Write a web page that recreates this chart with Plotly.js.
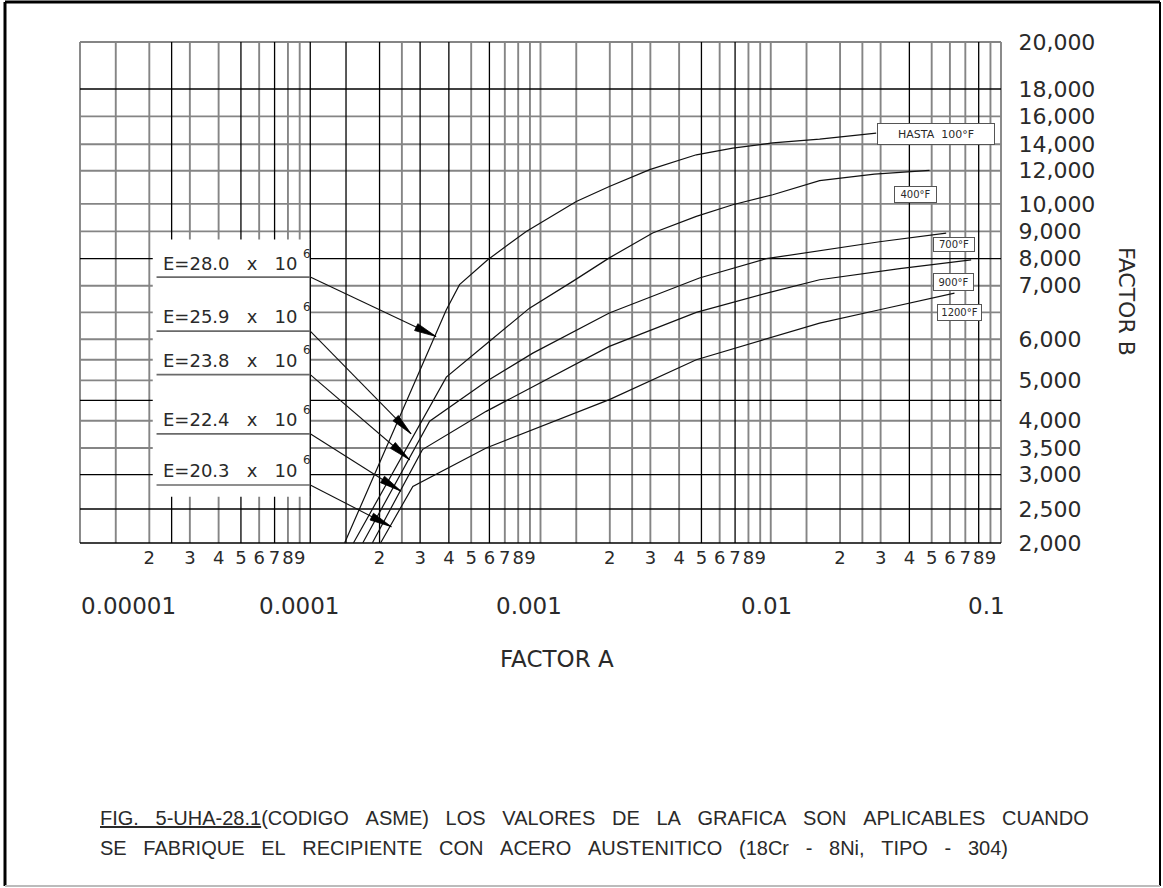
<!DOCTYPE html>
<html>
<head>
<meta charset="utf-8">
<script src="https://cdn.plot.ly/plotly-3.0.1.min.js"></script>
<style>
  html, body { margin: 0; padding: 0; background: #fff; }
  #chart { width: 1163px; height: 888px; }
</style>
</head>
<body>
<div id="chart"></div>
<script>
// ================= DATA =================
// Factor A (strain) and Factor B (psi) along each temperature curve
const FACTOR_A_100F  = [0.000141, 0.00039, 0.000445, 0.00059, 0.000867, 0.00143, 0.00199, 0.00298, 0.00475, 0.00684, 0.0102, 0.0163, 0.0287];
const FACTOR_B_100F  = [2000, 6550, 7040, 7960, 9000, 10150, 11050, 12080, 13200, 13700, 14090, 14370, 14800];
const FACTOR_A_400F  = [0.000154, 0.00039, 0.00059, 0.000896, 0.00138, 0.00199, 0.00307, 0.00475, 0.00684, 0.0102, 0.0163, 0.0282, 0.0489];
const FACTOR_B_400F  = [2000, 5080, 5915, 6580, 7160, 8030, 8940, 9545, 9970, 10550, 11400, 11790, 12020];
const FACTOR_A_700F  = [0.000169, 0.00033, 0.000581, 0.000926, 0.00199, 0.0049, 0.00956, 0.0163, 0.0297, 0.0578];
const FACTOR_B_700F  = [2000, 3990, 4975, 5660, 6490, 7285, 8000, 8290, 8620, 8940];
const FACTOR_A_900F  = [0.000186, 0.000307, 0.000581, 0.00199, 0.00475, 0.0102, 0.0163, 0.0363, 0.0742];
const FACTOR_B_900F  = [2000, 3470, 4230, 5825, 6500, 6890, 7220, 7630, 7960];
const FACTOR_A_1200F = [0.000202, 0.000279, 0.000581, 0.00199, 0.00475, 0.0163, 0.0297, 0.0628];
const FACTOR_B_1200F = [2000, 2830, 3500, 4520, 5500, 6300, 6550, 6860];

const CURVE_LABELS = ['HASTA\u00a0\u00a0100°F', '400°F', '700°F', '900°F', '1200°F'];

// Modulus of elasticity call-outs (E x 10^6 psi) and the curve points their arrows touch
const MODULUS_E      = ['28.0', '25.9', '23.8', '22.4', '20.3'];
const MODULUS_EXP    = '6';
const LEADER_START_B = [7320, 6150, 5140, 3760, 2850];
const ARROW_TIP_A    = [0.000352, 0.000274, 0.00027, 0.000248, 0.000225];
const ARROW_TIP_B    = [6050, 3760, 3280, 2760, 2240];

// Axis tick labels
const B_TICKS        = [2000, 2500, 3000, 3500, 4000, 5000, 6000, 7000, 8000, 9000, 10000, 12000, 14000, 16000, 18000, 20000];
const A_DECADES      = [0.00001, 0.0001, 0.001, 0.01, 0.1];
const A_DECADE_TEXT  = ['0.00001', '0.0001', '0.001', '0.01', '0.1'];
const A_DIGITS       = [2, 3, 4, 5, 6, 7, 8, 9];

// Caption words
const CAPTION_FIG    = ['FIG.', '5-UHA-28.1'];
const CAPTION_LINE1  = ['(CODIGO', 'ASME)', 'LOS', 'VALORES', 'DE', 'LA', 'GRAFICA', 'SON', 'APLICABLES', 'CUANDO'];
const CAPTION_LINE2  = ['SE', 'FABRIQUE', 'EL', 'RECIPIENTE', 'CON', 'ACERO', 'AUSTENITICO', '(18Cr', '-', '8Ni,', 'TIPO', '-', '304)'];

// Grid of the printed chart
const A_GRID_STEPS   = [1, 1.43, 2, 2.5, 3, 4, 5, 6, 7, 8, 9];
const B_GRID         = [2000, 2500, 3000, 3500, 4000, 4500, 5000, 5500, 6000, 6500, 7000, 8000, 9000, 10000, 12000, 14000, 16000, 18000, 20000];

// ================= SCALE / STYLE =================
// The printed Factor B scale is not a true log scale: grid value -> distance (px) above the 2,000 line.
const B_SCALE_STEPS  = [0, 34, 68.3, 95, 122.3, 142.6, 162.6, 183.3, 203.8, 230.6, 257.3, 284.3, 311.6, 339.1, 372.3, 398.8, 426.6, 454, 501];
function bScale(b) {
  const v = B_GRID, s = B_SCALE_STEPS, n = v.length - 1;
  if (b <= v[0]) return s[0] + (b - v[0]) * (s[1] - s[0]) / (v[1] - v[0]);
  for (let i = 1; i <= n; i++) {
    if (b <= v[i]) return s[i - 1] + (b - v[i - 1]) * (s[i] - s[i - 1]) / (v[i] - v[i - 1]);
  }
  return s[n] + (b - v[n]) * (s[n] - s[n - 1]) / (v[n] - v[n - 1]);
}

const W = 1163, H = 888;
const M = { l: 78, r: 160, t: 40, b: 343 };
const PAD = 2;                                   // px of breathing room so border lines are not clipped
const PLOT_W = W - M.l - M.r, PLOT_H = H - M.t - M.b;
const PX_PER_DECADE = (PLOT_W - 2 * PAD) / 4;
const U_TOP = B_SCALE_STEPS[B_SCALE_STEPS.length - 1];
const PX_PER_U = (PLOT_H - 2 * PAD) / U_TOP;
const px2paperX = px => (px - M.l) / PLOT_W;
const py2paperY = py => (H - M.b - py) / PLOT_H;

const FONT_WIDE    = 'DejaVu Sans, Verdana, sans-serif';
const FONT_CAPTION = 'Liberation Sans, Arial, sans-serif';
const INK = '#2a2a2a';
const GRID_GRAY = '#858585';
const WORD_GAP = '\u00a0\u00a0\u00a0';

const DARK_A = [2.5e-5, 5e-5, 7e-5, 1e-4, 1.43e-4, 2e-4, 3e-4, 4e-4, 6e-4, 5e-3, 7e-3, 4e-2, 8e-2];
const DARK_B = [2000, 2500, 3000, 4500, 8000, 18000];
const isDarkA = a => DARK_A.some(d => Math.abs(a / d - 1) < 1e-6);

// ================= TRACES =================
const A_MIN = A_DECADES[0], A_MAX = A_DECADES[A_DECADES.length - 1];
const uMin = bScale(B_GRID[0]), uMax = bScale(B_GRID[B_GRID.length - 1]);

const gray = { x: [], y: [] }, dark = { x: [], y: [] };
const aGrid = A_DECADES.slice(0, -1).flatMap(d => A_GRID_STEPS.map(m => m * d)).concat([A_MAX]);
aGrid.forEach(a => {
  const t = isDarkA(a) ? dark : gray;
  t.x.push(a, a, null); t.y.push(uMin, uMax, null);
});
B_GRID.forEach(b => {
  const t = DARK_B.includes(b) ? dark : gray;
  t.x.push(A_MIN, A_MAX, null); t.y.push(bScale(b), bScale(b), null);
});

function lineTrace(x, y, color, width) {
  return { type: 'scatter', mode: 'lines', x, y, line: { color, width }, hoverinfo: 'skip', showlegend: false };
}

const traces = [];
traces.push(lineTrace(gray.x, gray.y, GRID_GRAY, 1.9));
traces.push(lineTrace(dark.x, dark.y, '#000', 1.3));

// white panel that holds the E call-outs (covers the grid, as in the print)
const PANEL = { a0: 2.07e-5, a1: 1e-4, b0: 2680, b1: 8700 };
traces.push({
  type: 'scatter', mode: 'none', fill: 'toself', fillcolor: '#fff',
  x: [PANEL.a0, PANEL.a1, PANEL.a1, PANEL.a0, PANEL.a0],
  y: [bScale(PANEL.b0), bScale(PANEL.b0), bScale(PANEL.b1), bScale(PANEL.b1), bScale(PANEL.b0)],
  hoverinfo: 'skip', showlegend: false
});
traces.push(lineTrace([PANEL.a1, PANEL.a1], [bScale(PANEL.b0), bScale(PANEL.b1)], '#000', 1.3));

// temperature curves
[[FACTOR_A_100F, FACTOR_B_100F], [FACTOR_A_400F, FACTOR_B_400F], [FACTOR_A_700F, FACTOR_B_700F],
 [FACTOR_A_900F, FACTOR_B_900F], [FACTOR_A_1200F, FACTOR_B_1200F]].forEach(([a, b], i) => {
  const t = lineTrace(a, b.map(bScale), '#111', 1.2);
  t.name = CURVE_LABELS[i];
  traces.push(t);
});

// E call-out underlines, leaders and arrowheads
const UNDERLINE_A0 = 2.15e-5;
const ul = { x: [], y: [] }, ld = { x: [], y: [] }, ah = { x: [], y: [] };
MODULUS_E.forEach((e, i) => {
  const u0 = bScale(LEADER_START_B[i]);
  ul.x.push(UNDERLINE_A0, PANEL.a1, null); ul.y.push(u0, u0, null);
  ld.x.push(PANEL.a1, ARROW_TIP_A[i], null); ld.y.push(u0, bScale(ARROW_TIP_B[i]), null);
  // arrowhead built in screen space then mapped back through the axes
  const sx = Math.log10(PANEL.a1) * PX_PER_DECADE, sy = u0 * PX_PER_U;
  const tx = Math.log10(ARROW_TIP_A[i]) * PX_PER_DECADE, ty = bScale(ARROW_TIP_B[i]) * PX_PER_U;
  let dx = tx - sx, dy = ty - sy; const L = Math.hypot(dx, dy); dx /= L; dy /= L;
  const len = 22, hw = 3.8;
  const bx = tx - dx * len, by = ty - dy * len, nx = -dy, ny = dx;
  const pts = [[tx, ty], [bx + nx * hw, by + ny * hw], [bx - nx * hw, by - ny * hw], [tx, ty]];
  pts.forEach(p => { ah.x.push(Math.pow(10, p[0] / PX_PER_DECADE)); ah.y.push(p[1] / PX_PER_U); });
  ah.x.push(null); ah.y.push(null);
});
traces.push(lineTrace(ul.x, ul.y, '#6a6a6a', 1.7));
traces.push(lineTrace(ld.x, ld.y, '#111', 1.1));
traces.push({ type: 'scatter', mode: 'lines', fill: 'toself', fillcolor: '#000', x: ah.x, y: ah.y,
              line: { color: '#000', width: 0.8 }, hoverinfo: 'skip', showlegend: false });

// ================= ANNOTATIONS =================
const annotations = [];

// decade labels under the digit ticks
const DECADE_SHIFT = [48, -11, -12, -4, -15];
A_DECADES.forEach((d, i) => annotations.push({
  xref: 'x', yref: 'paper', x: Math.log10(d), y: py2paperY(606), xanchor: 'center', yanchor: 'middle',
  xshift: DECADE_SHIFT[i], text: A_DECADE_TEXT[i], showarrow: false,
  font: { family: FONT_WIDE, size: 23, color: INK }
}));

annotations.push({ xref: 'paper', yref: 'paper', x: px2paperX(557), y: py2paperY(659), xanchor: 'center', yanchor: 'middle',
  text: 'FACTOR A', showarrow: false, font: { family: FONT_WIDE, size: 23, color: INK } });
annotations.push({ xref: 'paper', yref: 'paper', x: px2paperX(1127), y: py2paperY(301), xanchor: 'center', yanchor: 'middle',
  text: 'FACTOR B', textangle: 90, showarrow: false, font: { family: FONT_WIDE, size: 22, color: INK } });

// E call-out text (mantissa and exponent)
const E_TEXT_Y = [263.7, 316.7, 360, 419.7, 470.3];
MODULUS_E.forEach((e, i) => {
  annotations.push({
    xref: 'paper', yref: 'paper', x: px2paperX(161), y: py2paperY(E_TEXT_Y[i]), xanchor: 'left', yanchor: 'middle',
    text: 'E=' + e + '\u00a0\u00a0\u00a0x\u00a0\u00a0\u00a010', showarrow: false,
    font: { family: FONT_WIDE, size: 18, color: INK }
  });
  annotations.push({
    xref: 'paper', yref: 'paper', x: px2paperX(301), y: py2paperY(E_TEXT_Y[i] - 10), xanchor: 'left', yanchor: 'middle',
    text: MODULUS_EXP, showarrow: false, font: { family: FONT_WIDE, size: 12, color: INK }
  });
});

// temperature boxes
const LABEL_BOX = [
  { cx: 935.8, cy: 133.8, w: 118, h: 22, fs: 11 },
  { cx: 915.8, cy: 194.7, w: 43, h: 17, fs: 10 },
  { cx: 954.2, cy: 244.7, w: 42, h: 15, fs: 10 },
  { cx: 953.0, cy: 281.5, w: 41, h: 18, fs: 10 },
  { cx: 959.2, cy: 312.0, w: 45, h: 17, fs: 10 }
];
CURVE_LABELS.forEach((t, i) => {
  const bx = LABEL_BOX[i];
  annotations.push({
    xref: 'paper', yref: 'paper', x: px2paperX(bx.cx), y: py2paperY(bx.cy), xanchor: 'center', yanchor: 'middle',
    text: t, showarrow: false, width: bx.w - 4, height: bx.h - 4, borderpad: 1, borderwidth: 1,
    bordercolor: '#555', bgcolor: '#fff', align: 'center', valign: 'middle',
    font: { family: FONT_WIDE, size: bx.fs, color: INK }
  });
});

// caption
annotations.push({ xref: 'paper', yref: 'paper', x: px2paperX(98), y: py2paperY(818), xanchor: 'left', yanchor: 'middle',
  text: '<u>' + CAPTION_FIG.join(WORD_GAP) + '</u>' + CAPTION_LINE1.join(WORD_GAP),
  showarrow: false, font: { family: FONT_CAPTION, size: 20, color: INK } });
annotations.push({ xref: 'paper', yref: 'paper', x: px2paperX(98), y: py2paperY(848), xanchor: 'left', yanchor: 'middle',
  text: CAPTION_LINE2.join(WORD_GAP),
  showarrow: false, font: { family: FONT_CAPTION, size: 20, color: INK } });

// page frame
const frame = [
  { x0: 5, y0: 2, x1: 5, y1: 886, c: '#000', w: 3 },
  { x0: 5, y0: 2, x1: 1160, y1: 2, c: '#000', w: 3 },
  { x0: 1160, y0: 2, x1: 1160, y1: 886, c: '#000', w: 2 },
  { x0: 5, y0: 886, x1: 1160, y1: 886, c: '#bbb', w: 2 }
];
const shapes = frame.map(f => ({
  type: 'line', xref: 'paper', yref: 'paper', layer: 'above',
  x0: px2paperX(f.x0), x1: px2paperX(f.x1), y0: py2paperY(f.y0), y1: py2paperY(f.y1),
  line: { color: f.c, width: f.w }
}));

// ================= LAYOUT =================
const xTickVals = [], xTickText = [];
A_DECADES.slice(0, -1).forEach(d => A_DIGITS.forEach(m => { xTickVals.push(m * d); xTickText.push(String(m)); }));

const layout = {
  width: W, height: H,
  margin: { l: M.l, r: M.r, t: M.t, b: M.b, pad: 0 },
  paper_bgcolor: '#fff', plot_bgcolor: '#fff',
  showlegend: false, hovermode: false,
  xaxis: {
    type: 'log', range: [Math.log10(A_MIN) - PAD / PX_PER_DECADE, Math.log10(A_MAX) + PAD / PX_PER_DECADE],
    showgrid: false, zeroline: false, showline: false,
    tickmode: 'array', tickvals: xTickVals, ticktext: xTickText, tickangle: 0,
    ticks: '', tickfont: { family: FONT_WIDE, size: 18, color: INK }, fixedrange: true
  },
  yaxis: {
    range: [uMin - PAD / PX_PER_U, uMax + PAD / PX_PER_U], side: 'right',
    showgrid: false, zeroline: false, showline: false,
    tickmode: 'array', tickvals: B_TICKS.map(bScale), ticktext: B_TICKS.map(v => v.toLocaleString('en-US')),
    ticks: 'outside', ticklen: 10, tickcolor: 'rgba(0,0,0,0)',
    tickfont: { family: FONT_WIDE, size: 22, color: INK }, fixedrange: true
  },
  annotations, shapes
};

Plotly.newPlot('chart', traces, layout, { staticPlot: true, displayModeBar: false });
</script>
</body>
</html>
